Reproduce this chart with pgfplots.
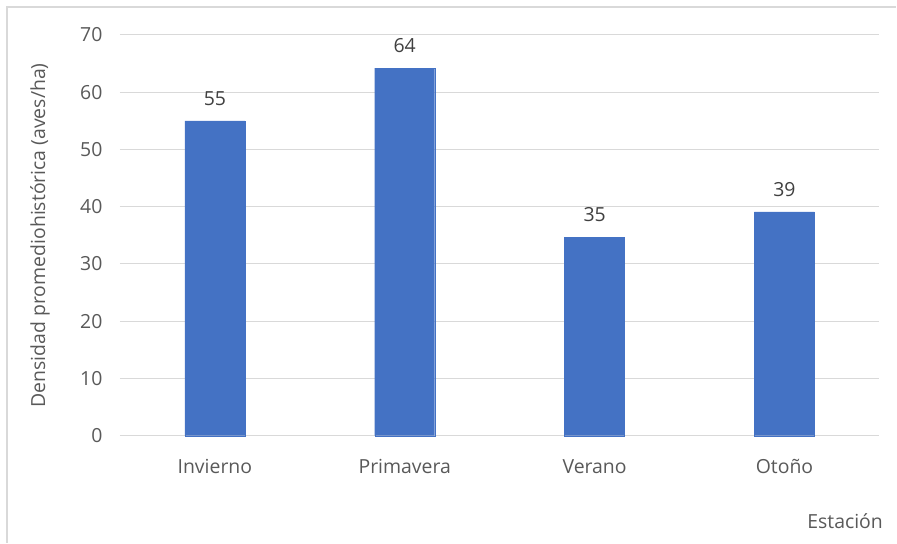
\documentclass[border=0pt]{standalone}
\usepackage{pgfplots}
\pgfplotsset{compat=1.18}
\usepackage{fontspec}
\setmainfont{Open Sans}
\definecolor{barblue}{HTML}{4472C4}
\definecolor{gridgray}{HTML}{D9D9D9}
\definecolor{txtgray}{HTML}{595959}
\definecolor{lblgray}{HTML}{404040}
\begin{document}
\begin{tikzpicture}
\begin{axis}[
  scale only axis,
  width=760bp, height=401bp,
  xmin=-0.5, xmax=3.5,
  ymin=0, ymax=70,
  ytick={0,10,...,70},
  xtick=data,
  xticklabels={Invierno,Primavera,Verano,Otoño},
  ybar, bar width=60bp,
  axis line style={draw=none},
  major tick length=0pt,
  ymajorgrids, grid style={gridgray, line width=1bp},
  tick label style={font=\fontsize{19.5}{22}\selectfont, text=txtgray},
  /pgf/number format/assume math mode=true,
  yticklabel style={xshift=-14bp},
  xticklabel style={yshift=-20bp},
  ylabel={Densidad promediohistórica (aves/ha)},
  ylabel style={font=\fontsize{19.5}{22}\selectfont, text=txtgray, at={(rel axis cs:-0.1053,0.5)}, anchor=center},
  xlabel={Estación},
  xlabel style={font=\fontsize{19.5}{22}\selectfont, text=txtgray, at={(rel axis cs:1,0)}, anchor=base east, xshift=7bp, yshift=-93bp},
  nodes near coords={\pgfmathprintnumber[fixed,precision=0]{\pgfplotspointmeta}},
  nodes near coords style={font=\fontsize{19.5}{22}\selectfont, text=lblgray, yshift=12bp},
  clip=false,
]
\addplot[fill=barblue, draw=barblue] coordinates {(0,55.0) (1,64.2) (2,34.6) (3,39.1)};
\draw[gridgray, line width=1.2bp] ([xshift=-113bp,yshift=-107bp]rel axis cs:0,0) -- ([xshift=-113bp,yshift=28bp]rel axis cs:0,1) -- ([xshift=17bp,yshift=28bp]rel axis cs:1,1);
\path ([xshift=-120bp,yshift=-107bp]rel axis cs:0,0) rectangle ([xshift=17bp,yshift=35bp]rel axis cs:1,1);
\end{axis}
\end{tikzpicture}
\end{document}
